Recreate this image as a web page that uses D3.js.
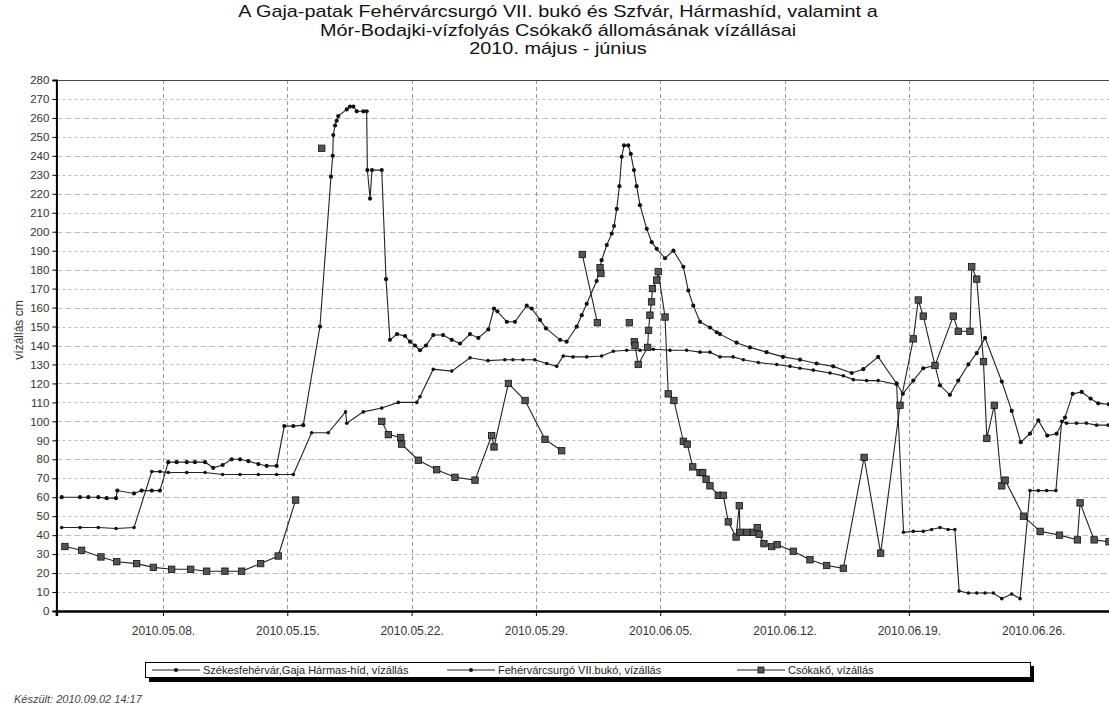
<!DOCTYPE html>
<html>
<head>
<meta charset="utf-8">
<script src="https://cdn.jsdelivr.net/npm/d3@7"></script>
<style>
  body { margin: 0; background: #fff; }
  svg { font-family: "Liberation Sans", Arial, sans-serif; }
</style>
</head>
<body>
<div class="chart"></div>
<script>
var width = 1109,
    height = 710;

// time is given as day of May (32 = June 1), values in cm
var szfvDays = [2.30, 3.33, 3.80, 4.36, 4.83, 5.36, 5.43, 6.37, 6.80, 7.37, 7.83, 8.30, 8.77, 9.34, 9.80, 10.37,
  10.83, 11.36, 11.87, 12.34, 12.81, 13.37, 13.84, 14.40, 14.83, 15.34, 15.90, 16.84, 17.46, 17.56, 17.59, 17.69,
  17.78, 17.87, 18.35, 18.53, 18.72, 18.91, 19.28, 19.47, 19.51, 19.66, 19.77, 20.32, 20.56, 20.78, 21.18, 21.63,
  21.91, 22.19, 22.47, 22.81, 23.22, 23.77, 24.26, 24.73, 25.29, 25.76, 26.32, 26.64, 26.83, 27.36, 27.82, 28.48,
  28.76, 29.23, 29.57, 30.36, 30.73, 31.30, 31.58, 31.86, 32.42, 32.70, 32.99, 33.27, 33.40, 33.55, 33.70, 33.83,
  33.96, 34.20, 34.34, 34.52, 34.67, 34.86, 35.24, 35.52, 35.80, 36.27, 36.74, 37.30, 37.58, 37.86, 38.24, 38.80,
  39.18, 39.36, 40.30, 41.05, 41.99, 42.91, 43.87, 44.81, 45.74, 46.78, 47.43, 48.27, 49.31, 49.66, 50.25, 50.81,
  51.47, 51.75, 52.31, 52.78, 53.35, 53.82, 54.29, 55.23, 55.79, 56.30, 56.82, 57.29, 57.79, 58.32, 58.79, 59.22,
  59.73, 60.23, 60.66, 61.26];
var szfvValues = [60, 60, 60, 60, 59.5, 59.5, 63.5, 62, 63.5, 63.5, 63.5, 78.5, 78.5, 78.5, 78.5, 78.5,
  75.5, 77, 80, 80, 79, 77.5, 76.5, 76.5, 97.5, 97.5, 98, 150, 229, 240, 251, 256,
  258.5, 261, 264.5, 266, 266, 263.5, 263.5, 263.5, 232.5, 217.5, 232.5, 232.5, 175, 143, 146, 145,
  142, 140, 137.5, 140, 145.5, 145.5, 143, 141, 146, 144, 148.5, 159.5, 158, 152.5, 152.5, 161,
  159.5, 153.5, 149, 143, 142, 150, 156, 162, 174, 185, 193, 199, 203, 212, 224, 239.5,
  245.5, 245.5, 241, 232.5, 224, 214, 201.5, 194.5, 191, 186, 190, 181.5, 169, 161, 152.5, 149.5,
  147, 146, 141.5, 139, 136.5, 134, 132.5, 130.5, 129, 125.5, 127.5, 134, 120, 114.5, 121.5, 128,
  129.5, 119, 114, 121.5, 130, 136, 144, 121, 105.5, 89, 93.5, 100.5, 92.5, 93.5, 102, 114.5,
  115.5, 112, 109.5, 109];

var csurgoDays = [2.30, 3.33, 4.36, 5.36, 6.37, 7.37, 7.83, 8.30, 9.34, 10.37, 11.36, 12.34, 13.37, 14.40, 15.34,
  16.37, 17.31, 18.28, 18.35, 19.28, 20.32, 21.25, 22.29, 22.47, 23.22, 24.26, 25.29, 26.30, 27.25, 27.70, 28.27,
  28.94, 29.61, 30.17, 30.54, 31.09, 31.86, 32.70, 33.36, 34.11, 34.86, 35.61, 36.55, 37.49, 38.24, 38.80, 39.36,
  40.10, 40.68, 41.52, 42.56, 43.31, 43.87, 44.62, 45.56, 46.31, 46.87, 47.62, 48.27, 49.31, 49.70, 50.25, 50.81,
  51.28, 51.75, 52.21, 52.59, 52.83, 53.35, 53.82, 54.29, 54.76, 55.23, 55.79, 56.26, 56.82, 57.29, 57.76, 58.28,
  58.60, 58.88, 59.44, 60.00, 60.57, 61.22];
var csurgoValues = [44, 44, 44, 43.5, 44, 73.5, 73.5, 73, 73, 73, 72, 72, 72, 72, 72,
  94, 94, 105, 99, 105, 107, 110, 110, 113, 127.5, 126.5, 133.5, 132, 132.5, 132.5, 132.5,
  132.5, 130.5, 129, 134.5, 134, 134, 134.5, 137, 137.5, 137.5, 138, 137.5, 137.5, 136.5, 136.5, 134,
  134, 132.5, 131, 130, 129, 128, 127, 125.5, 124, 122, 121.5, 121.5, 119.5, 41.5, 42, 42,
  43, 44, 43, 43, 10.5, 9.5, 9.5, 9.5, 9.5, 6.5, 9, 6.5, 63.5, 63.5, 63.5, 63.5,
  100, 99, 99, 99, 98, 98];

// null = missing reading (gap in the line)
var csokakoDays = [2.48, 3.42, 4.51, 5.40, 6.52, 7.46, 8.49, 9.56, 10.46, 11.49, 12.43, 13.50, 14.49, 15.47, 16.2,
  16.94, 18.0, 20.32, 20.69, 21.39, 21.44, 22.38, 23.41, 24.44, 25.57, 26.51, 26.64, 27.45, 28.39, 29.51, 30.45,
  31.0, 31.61, 32.46, 32.55, 32.61, 32.66, 33.5, 34.26, 34.40, 34.54, 34.58, 34.76, 35.29, 35.34, 35.42, 35.51,
  35.56, 35.80, 35.89, 36.27, 36.45, 36.77, 37.30, 37.52, 37.83, 38.24, 38.39, 38.58, 38.80, 39.27, 39.55, 39.83,
  40.27, 40.45, 40.49, 40.88, 41.24, 41.46, 41.57, 41.84, 42.28, 42.58, 43.49, 44.43, 45.37, 46.31, 47.48, 48.41,
  49.50, 50.25, 50.53, 50.81, 51.47, 52.50, 52.78, 53.44, 53.54, 53.82, 54.20, 54.39, 54.81, 55.23, 55.42, 56.45,
  57.39, 58.48, 59.49, 59.64, 60.43, 61.27];
var csokakoValues = [34, 32, 28.5, 26, 25, 23, 22, 22, 21, 21, 21, 25, 29, 58.5, null,
  244, null, 100, 93, 91.5, 88, 79.5, 74.5, 70.5, 69, 92.5, 86.5, 120, 111, 90.5, 84.5,
  null, 188, 152, null, 181, 178, null, 152, null, 142, 140, 130, 139, 148, 156, 163,
  170, 174.5, 179, 155, 114.5, 111, 89.5, 88, 76, 73, 73, 69.5, 66, 61, 61, 47,
  39, 55.5, 41.5, 41.5, 41.5, 44, 40.5, 35.5, 34, 35, 31.5, 27, 24, 22.5, 81, 30.5,
  108.5, 143.5, 164, 155.5, 129.5, 155.5, 147.5, 147.5, 181.5, 175, 131.5, 91, 108.5, 66, 69, 50,
  42, 40, 37.5, 57, 37.5, 36.5];

var tickLabels = ["2010.05.08.", "2010.05.15.", "2010.05.22.", "2010.05.29.",
  "2010.06.05.", "2010.06.12.", "2010.06.19.", "2010.06.26."];

var seriesNames = ["Székesfehérvár,Gaja Hármas-híd, vízállás",
  "Fehérvárcsurgó VII.bukó, vízállás",
  "Csókakő, vízállás"];

var titleLines = ["A Gaja-patak Fehérvárcsurgó VII. bukó és Szfvár, Hármashíd, valamint a",
  "Mór-Bodajki-vízfolyás Csókakő állomásának vízállásai",
  "2010. május - június"];

var plotLeft = 56.4, plotTop = 80, plotRight = 1122, plotBottom = 611;

function dayToDate(d) {
  return new Date(new Date(2010, 4, 1).getTime() + (d - 1) * 864e5);
}

var svg = d3.select(".chart")
  .append("svg")
    .attr("width", width)
    .attr("height", height);

var x = d3.scaleTime()
  .domain([new Date(2010, 4, 2), new Date(2010, 6, 1)])
  .range([plotLeft, plotRight]);

var y = d3.scaleLinear()
  .domain([0, 280])
  .range([plotBottom, plotTop]);

var parseTick = d3.timeParse("%Y.%m.%d.");
var tickDates = tickLabels.map(parseTick);

// Title (the original uses a wide face, so the text is stretched sideways)
svg.append("g").selectAll("text")
  .data(titleLines)
  .enter()
  .append("text")
    .attr("transform", function(d, i) { return "translate(558," + (17 + i * 18.5) + ") scale(1.24,1)"; })
    .attr("text-anchor", "middle")
    .style("font-size", "16px")
    .style("fill", "#111")
    .text(function(d) { return d; });

// Horizontal grid
svg.append("g").selectAll("line")
  .data(d3.range(10, 280, 10))
  .enter()
  .append("line")
    .attr("x1", plotLeft).attr("x2", width)
    .attr("y1", function(d) { return Math.round(y(d)) + 0.5; })
    .attr("y2", function(d) { return Math.round(y(d)) + 0.5; })
    .attr("stroke", "#bdbdbd")
    .attr("stroke-dasharray", function(d, i) { return i % 2 ? "6,3" : "3,3"; });

// Vertical grid
svg.append("g").selectAll("line")
  .data(tickDates)
  .enter()
  .append("line")
    .attr("x1", function(d) { return Math.round(x(d)) + 0.5; })
    .attr("x2", function(d) { return Math.round(x(d)) + 0.5; })
    .attr("y1", plotTop).attr("y2", plotBottom)
    .attr("stroke", "#9a9a9a")
    .attr("stroke-dasharray", "4,3");

// Top border
svg.append("line")
  .attr("x1", plotLeft).attr("x2", width)
  .attr("y1", plotTop + 0.5).attr("y2", plotTop + 0.5)
  .attr("stroke", "#444");

// Axes
var yAxis = d3.axisLeft(y)
  .tickValues(d3.range(0, 290, 10))
  .tickSize(4)
  .tickPadding(3);

var gy = svg.append("g")
  .attr("transform", "translate(" + plotLeft + ",0)")
  .call(yAxis);
gy.select(".domain").attr("stroke", "#000").attr("stroke-width", 2);
gy.selectAll("text").style("font-size", "11.5px").style("fill", "#333").style("font-family", "Liberation Sans, Arial, sans-serif");

var xAxis = d3.axisBottom(x)
  .tickValues(tickDates)
  .tickFormat(d3.timeFormat("%Y.%m.%d."))
  .tickSize(5)
  .tickPadding(10);

var gx = svg.append("g")
  .attr("transform", "translate(0," + plotBottom + ")")
  .call(xAxis);
gx.select(".domain").attr("stroke", "#000").attr("stroke-width", 2.5);
gx.selectAll("text").style("font-size", "12px").style("fill", "#333").style("font-family", "Liberation Sans, Arial, sans-serif");

// Y title
svg.append("text")
  .attr("transform", "translate(23,330) rotate(-90)")
  .attr("text-anchor", "middle")
  .style("font-size", "12px")
  .style("fill", "#333")
  .text("vízállás cm");

// Series
var line = d3.line()
  .defined(function(d) { return d.v !== null; })
  .x(function(d) { return x(d.t); })
  .y(function(d) { return y(d.v); });

function makeSeries(days, values) {
  return days.map(function(d, i) { return { t: dayToDate(d), v: values[i] }; });
}

var series = [
  { data: makeSeries(szfvDays, szfvValues), marker: "dot", r: 2.1 },
  { data: makeSeries(csurgoDays, csurgoValues), marker: "dot", r: 1.8 },
  { data: makeSeries(csokakoDays, csokakoValues), marker: "square", r: 3.2 }
];

var plot = svg.append("g");

series.forEach(function(s) {
  plot.append("path")
    .datum(s.data)
    .attr("d", line)
    .attr("fill", "none")
    .attr("stroke", "#222")
    .attr("stroke-width", 1.1);

  var pts = s.data.filter(function(d) { return d.v !== null; });
  if (s.marker === "dot") {
    plot.append("g").selectAll("circle")
      .data(pts)
      .enter()
      .append("circle")
        .attr("cx", function(d) { return x(d.t); })
        .attr("cy", function(d) { return y(d.v); })
        .attr("r", s.r)
        .attr("fill", "#111");
  } else {
    plot.append("g").selectAll("rect")
      .data(pts)
      .enter()
      .append("rect")
        .attr("x", function(d) { return x(d.t) - s.r; })
        .attr("y", function(d) { return y(d.v) - s.r; })
        .attr("width", s.r * 2)
        .attr("height", s.r * 2)
        .attr("fill", "#555")
        .attr("stroke", "#111")
        .attr("stroke-width", 0.8);
  }
});

// Legend
var legend = svg.append("g");
legend.append("rect")
  .attr("x", 149).attr("y", 666).attr("width", 885).attr("height", 16)
  .attr("fill", "#000");
legend.append("rect")
  .attr("x", 145.5).attr("y", 662.5).attr("width", 885).attr("height", 15)
  .attr("fill", "#fff").attr("stroke", "#000");

var legendX = [152, 447, 737];
seriesNames.forEach(function(name, i) {
  var g = legend.append("g").attr("transform", "translate(" + legendX[i] + ",670)");
  g.append("line").attr("x1", 0).attr("x2", 48).attr("y1", 0).attr("y2", 0)
    .attr("stroke", "#222");
  if (i < 2) {
    g.append("circle").attr("cx", 24).attr("cy", 0).attr("r", 2).attr("fill", "#111");
  } else {
    g.append("rect").attr("x", 21).attr("y", -3).attr("width", 6).attr("height", 6)
      .attr("fill", "#555").attr("stroke", "#111").attr("stroke-width", 0.8);
  }
  g.append("text").attr("x", 51).attr("y", 4)
    .style("font-size", "11px").style("fill", "#222")
    .text(name);
});

// Footer
svg.append("text")
  .attr("x", 14).attr("y", 703)
  .style("font-size", "11px")
  .style("font-style", "italic")
  .style("fill", "#444")
  .text("Készült: 2010.09.02 14:17");
</script>
</body>
</html>
